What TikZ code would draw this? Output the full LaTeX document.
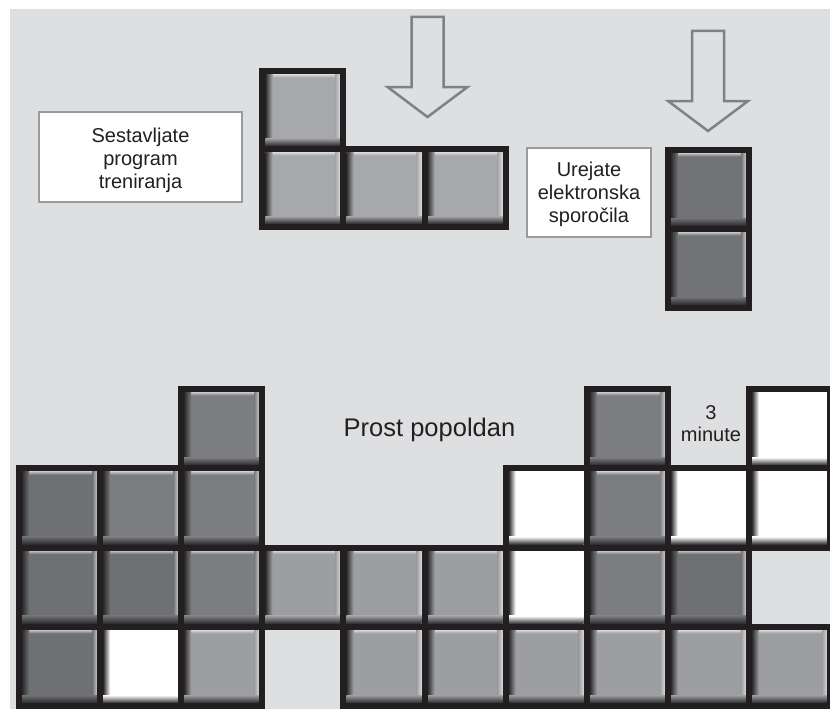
\documentclass[tikz,border=0pt]{standalone}
\usepackage{fontspec}
\newfontfamily\diagfont{Liberation Sans}

\definecolor{panel}{HTML}{DEDFE1}
\definecolor{blockline}{HTML}{231F20}
\definecolor{shadow}{HTML}{2A2829}
\definecolor{darkA}{HTML}{6F7074}
\definecolor{darkB}{HTML}{7C7D81}
\definecolor{lightA}{HTML}{9D9EA2}
\definecolor{pieceL}{HTML}{A7A8AC}
\definecolor{pieceI}{HTML}{727377}
\definecolor{arrowgray}{HTML}{808184}
\definecolor{boxgray}{HTML}{9A9B9D}
\definecolor{inkcol}{HTML}{231F20}

\tikzset{
  cellborder/.style={draw=blockline, line width=6pt, line join=miter},
  arrowline/.style={draw=arrowgray, line width=2.5pt, line join=miter},
  notebox/.style={draw=boxgray, fill=white, line width=1.2pt},
  notetext/.style={align=center, text=inkcol, inner sep=0pt,
    font={\diagfont\fontsize{20}{23}\selectfont}},
  plainlabel/.style={align=center, text=inkcol, inner sep=0pt},
  droparrow/.pic={
    \draw[arrowline] (-16,0) -- (-16,70) -- (-40,70) -- (0,100)
      -- (40,70) -- (16,70) -- (16,0) -- cycle;
  }
}

% one bevelled square: left, top, right, bottom, fill colour
\newcommand\blockcell[5]{%
  \pgfmathsetmacro\bxa{#1+3}\pgfmathsetmacro\bxb{#3-3}%
  \pgfmathsetmacro\bya{#2+3}\pgfmathsetmacro\byb{#4-3}%
  \fill[#5] (\bxa,\bya) rectangle (\bxb,\byb);
  \shade[top color=#5!40!white, bottom color=#5] (\bxa,\bya) rectangle (\bxb,\bya+3.5);
  \shade[left color=#5, right color=#5!40!white] (\bxb-5,\bya) rectangle (\bxb,\byb);
  \shade[left color=shadow, right color=#5] (\bxa,\bya) rectangle (\bxa+7,\byb);
  \shade[bottom color=shadow, top color=#5] (\bxa,\byb-8) rectangle (\bxb,\byb);
  \draw[cellborder] (#1,#2) rectangle (#3,#4);
}

% square of the bottom wall: column (1..10), row (0..3), fill colour
\newcommand\gcell[3]{%
  \pgfmathsetmacro\gxa{19+81.1*(#1-1)}\pgfmathsetmacro\gxb{\gxa+81.1}%
  \pgfmathsetmacro\gya{389+79.3*#2}\pgfmathsetmacro\gyb{\gya+79.3}%
  \blockcell{\gxa}{\gya}{\gxb}{\gyb}{#3}%
}

\begin{document}
\begin{tikzpicture}[x=1pt, y=-1pt]
\useasboundingbox (0,0) rectangle (830,709);
\clip (0,0) rectangle (830,709);
\fill[white] (0,0) rectangle (830,709);
\fill[panel] (10,9) rectangle (830,709);

% falling L piece
\blockcell{262.3}{71}{343.4}{149}{pieceL}
\blockcell{262.3}{149}{343.4}{227}{pieceL}
\blockcell{343.4}{149}{424.5}{227}{pieceL}
\blockcell{424.5}{149}{505.6}{227}{pieceL}

% falling vertical piece
\blockcell{667.8}{150}{748.9}{229}{pieceI}
\blockcell{667.8}{229}{748.9}{308}{pieceI}

% drop arrows
\pic at (427.5,17) {droparrow};
\pic at (708,31) {droparrow};

% notes
\node[notebox, minimum width=203, minimum height=90] (plan) at (140.5,157) {};
\node[notetext] (plantext) at ([yshift=-3pt]plan.center)
  {Sestavljate\\program\\treniranja};
\node[notebox, minimum width=124, minimum height=89] (mail) at (589,192.5) {};
\node[notetext] (mailtext) at ([yshift=-2pt]mail.center)
  {Urejate\\elektronska\\sporočila};

% the wall
\foreach \c/\r/\k in {
  3/0/darkB, 8/0/darkB, 10/0/white,
  1/1/darkA, 2/1/darkB, 3/1/darkB, 7/1/white, 8/1/darkB, 9/1/white, 10/1/white,
  1/2/darkA, 2/2/darkA, 3/2/darkB, 4/2/lightA, 5/2/lightA, 6/2/lightA,
  7/2/white, 8/2/darkB, 9/2/darkA,
  1/3/darkA, 2/3/white, 3/3/lightA, 5/3/lightA, 6/3/lightA, 7/3/lightA,
  8/3/lightA, 9/3/lightA, 10/3/lightA}
  {\gcell{\c}{\r}{\k}}

\node[plainlabel, anchor=base, font={\diagfont\fontsize{25.5}{30}\selectfont}]
  (free) at (429.5,436.5) {Prost popoldan};
\node[plainlabel, font={\diagfont\fontsize{20}{22}\selectfont}]
  (mins) at (711,424) {3\\minute};
\end{tikzpicture}
\end{document}
